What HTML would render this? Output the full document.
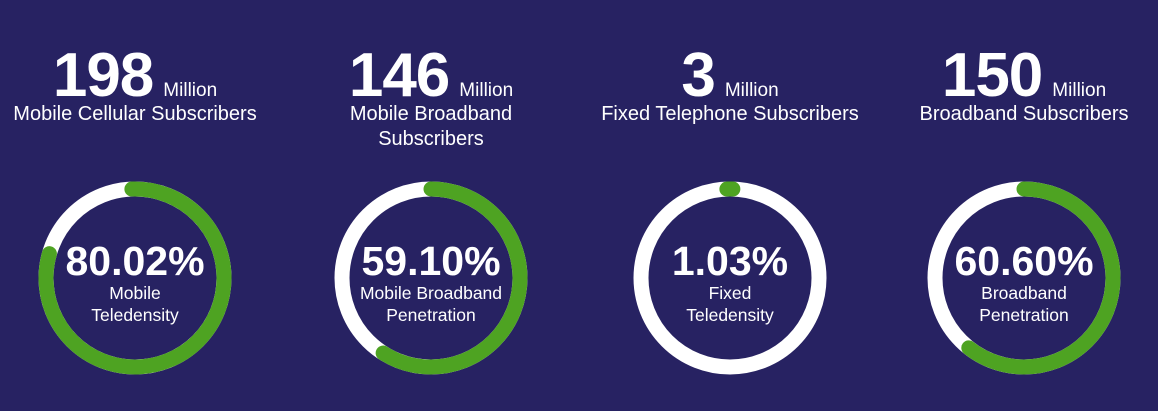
<!DOCTYPE html>
<html><head><style>
body{margin:0;width:1158px;height:411px;background:#272262;overflow:hidden;font-family:"Liberation Sans",sans-serif;color:#fff}
.c{position:absolute;width:296px;text-align:center}
.big{position:absolute;top:40px;left:0;width:100%;white-space:nowrap}
.big b{font-size:62px;letter-spacing:-1px}
.big span{font-size:19px;margin-left:10px}
.sub{position:absolute;top:102px;left:0;width:100%;font-size:20px;line-height:25px}
.pct{position:absolute;top:238px;left:0;width:100%;font-size:41px;font-weight:bold}
.lab{position:absolute;top:282px;left:0;width:100%;font-size:17.5px;line-height:22px}
svg{position:absolute;left:0;top:0}
</style></head><body>
<svg width="1158" height="411">
<g fill="none" stroke-width="15">
<circle cx="135" cy="278" r="89" stroke="#fff"/>
<circle cx="135" cy="278" r="89" stroke="#4ea322" stroke-linecap="round" stroke-dasharray="447 1000" transform="rotate(-92 135 278)"/>
<circle cx="431" cy="278" r="89" stroke="#fff"/>
<circle cx="431" cy="278" r="89" stroke="#4ea322" stroke-linecap="round" stroke-dasharray="330 1000" transform="rotate(-90 431 278)"/>
<circle cx="730" cy="278" r="89" stroke="#fff"/>
<circle cx="730" cy="278" r="89" stroke="#4ea322" stroke-linecap="round" stroke-dasharray="6 1000" transform="rotate(-92 730 278)"/>
<circle cx="1024" cy="278" r="89" stroke="#fff"/>
<circle cx="1024" cy="278" r="89" stroke="#4ea322" stroke-linecap="round" stroke-dasharray="339 1000" transform="rotate(-90 1024 278)"/>
</g></svg>
<div class="c" style="left:-13px"><div class="big"><b>198</b><span>Million</span></div><div class="sub">Mobile Cellular Subscribers</div><div class="pct">80.02%</div><div class="lab">Mobile<br>Teledensity</div></div>
<div class="c" style="left:283px"><div class="big"><b>146</b><span>Million</span></div><div class="sub">Mobile Broadband<br>Subscribers</div><div class="pct">59.10%</div><div class="lab">Mobile Broadband<br>Penetration</div></div>
<div class="c" style="left:582px"><div class="big"><b>3</b><span>Million</span></div><div class="sub">Fixed Telephone Subscribers</div><div class="pct">1.03%</div><div class="lab">Fixed<br>Teledensity</div></div>
<div class="c" style="left:876px"><div class="big"><b>150</b><span>Million</span></div><div class="sub">Broadband Subscribers</div><div class="pct">60.60%</div><div class="lab">Broadband<br>Penetration</div></div>
</body></html>
